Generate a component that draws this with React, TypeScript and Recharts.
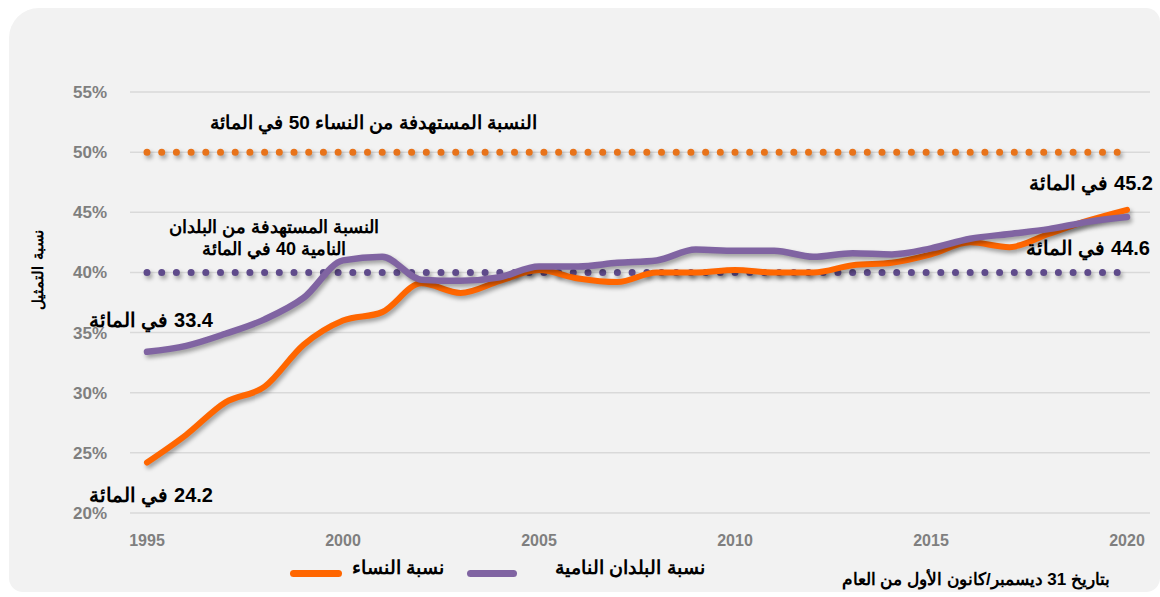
import { LineChart, Line, XAxis, YAxis, CartesianGrid } from "recharts";

const years = [
  1995, 1996, 1997, 1998, 1999, 2000, 2001, 2002, 2003, 2004, 2005, 2006, 2007,
  2008, 2009, 2010, 2011, 2012, 2013, 2014, 2015, 2016, 2017, 2018, 2019, 2020,
];
const women = [
  24.2, 26.5, 29.2, 30.5, 34.0, 36.0, 36.7, 39.1, 38.3, 39.3, 40.2, 39.5, 39.2,
  40.0, 40.0, 40.2, 40.0, 40.0, 40.6, 40.8, 41.5, 42.5, 42.1, 43.2, 44.3, 45.2,
];
const developing = [
  33.4, 33.9, 34.9, 36.1, 37.9, 41.0, 41.3, 39.4, 39.3, 39.6, 40.5, 40.5, 40.8,
  41.0, 41.9, 41.8, 41.8, 41.3, 41.6, 41.5, 42.0, 42.8, 43.2, 43.6, 44.2, 44.6,
];
const targetWomen = 50;
const targetDeveloping = 40;
const xTicks = [1995, 2000, 2005, 2010, 2015, 2020];
const yTicks = [20, 25, 30, 35, 40, 45, 50, 55];

const data = years.map((year, i) => ({
  year,
  women: women[i],
  developing: developing[i],
  t50: targetWomen,
  t40: targetDeveloping,
}));

const ORANGE = "#ff6600";
const PURPLE = "#8064a2";
const AR = "Arial, 'Liberation Sans', sans-serif";

const note = (extra: React.CSSProperties): React.CSSProperties => ({
  position: "absolute",
  direction: "rtl",
  fontFamily: AR,
  fontWeight: "bold",
  fontSize: 20,
  color: "#000",
  whiteSpace: "nowrap",
  lineHeight: "22px",
  ...extra,
});

export default function App() {
  return (
    <div style={{ position: "absolute", left: 0, top: 0, width: 1160, height: 597, background: "#fff" }}>
      <style>{`.shadowed .recharts-line-curve { filter: drop-shadow(2px 3px 2px rgba(0,0,0,0.35)); }`}</style>
      <div
        style={{
          position: "absolute",
          left: 9,
          top: 8,
          width: 1151,
          height: 584,
          background: "#f2f2f2",
          borderRadius: "30px 14px 14px 14px",
        }}
      />
      <div className="shadowed" style={{ position: "absolute", left: 0, top: 0 }}>
        <LineChart
          width={1160}
          height={597}
          data={data}
          margin={{ top: 92, right: 10, bottom: 54, left: 0 }}
        >
          <CartesianGrid horizontal vertical={false} stroke="#d9d9d9" strokeWidth={1.5} />
          <XAxis
            dataKey="year"
            type="number"
            domain={[1995, 2020]}
            ticks={xTicks}
            padding={{ left: 17, right: 23 }}
            axisLine={false}
            tickLine={false}
            tickMargin={16}
            height={30}
            tick={{ fill: "#7f7f7f", fontSize: 16, fontWeight: "bold", fontFamily: "'Liberation Sans Narrow', Arial, sans-serif" }}
          />
          <YAxis
            domain={[20, 55]}
            ticks={yTicks}
            width={130}
            axisLine={false}
            tickLine={false}
            tickMargin={17}
            tickFormatter={(v) => `${v}%`}
            tick={{ fill: "#7f7f7f", fontSize: 17, fontWeight: "bold", fontFamily: AR }}
          />
          <Line
            dataKey="t50"
            stroke="#e8731a"
            strokeWidth={7}
            strokeDasharray="0 14.7"
            strokeLinecap="round"
            dot={false}
            isAnimationActive={false}
          />
          <Line
            dataKey="t40"
            stroke="#5f4b8b"
            strokeWidth={7}
            strokeDasharray="0 14.7"
            strokeLinecap="round"
            dot={false}
            isAnimationActive={false}
          />
          <Line
            type="monotone"
            dataKey="women"
            stroke={ORANGE}
            strokeWidth={6}
            strokeLinecap="round"
            dot={false}
            isAnimationActive={false}
          />
          <Line
            type="monotone"
            dataKey="developing"
            stroke={PURPLE}
            strokeWidth={6.5}
            strokeLinecap="round"
            dot={false}
            isAnimationActive={false}
          />
        </LineChart>
      </div>

      {/* axis title */}
      <div
        style={{
          position: "absolute",
          left: 38,
          top: 270,
          transform: "translate(-50%, -50%) rotate(-90deg)",
          direction: "rtl",
          fontFamily: "'DejaVu Serif', serif",
          fontSize: 15,
          fontWeight: "bold",
          whiteSpace: "nowrap",
          color: "#000",
        }}
      >
        نسبة التمثيل
      </div>

      {/* annotations */}
      <div style={note({ right: 1160 - 537, top: 112, fontSize: 19 })}>النسبة المستهدفة من النساء 50 في المائة</div>
      <div style={note({ left: 274, top: 216, transform: "translateX(-50%)", textAlign: "center", fontSize: 18 })}>
        النسبة المستهدفة من البلدان
        <br />
        النامية 40 في المائة
      </div>
      <div style={note({ right: 1160 - 213, top: 309 })}>33.4 في المائة</div>
      <div style={note({ right: 1160 - 213, top: 484 })}>24.2 في المائة</div>
      <div style={note({ right: 1160 - 1153, top: 172 })}>45.2 في المائة</div>
      <div style={note({ right: 1160 - 1150, top: 237 })}>44.6 في المائة</div>

      {/* legend */}
      <div style={{ position: "absolute", left: 290, top: 570, width: 52, height: 7, borderRadius: 4, background: ORANGE }} />
      <div style={note({ left: 352, top: 557, fontSize: 19 })}>نسبة النساء</div>
      <div style={{ position: "absolute", left: 467, top: 570, width: 50, height: 7, borderRadius: 4, background: PURPLE }} />
      <div style={note({ left: 555, top: 557, fontSize: 19 })}>نسبة البلدان النامية</div>
      <div style={note({ right: 1160 - 1110, top: 569, fontSize: 17 })}>بتاريخ 31 ديسمبر/كانون الأول من العام</div>
    </div>
  );
}
